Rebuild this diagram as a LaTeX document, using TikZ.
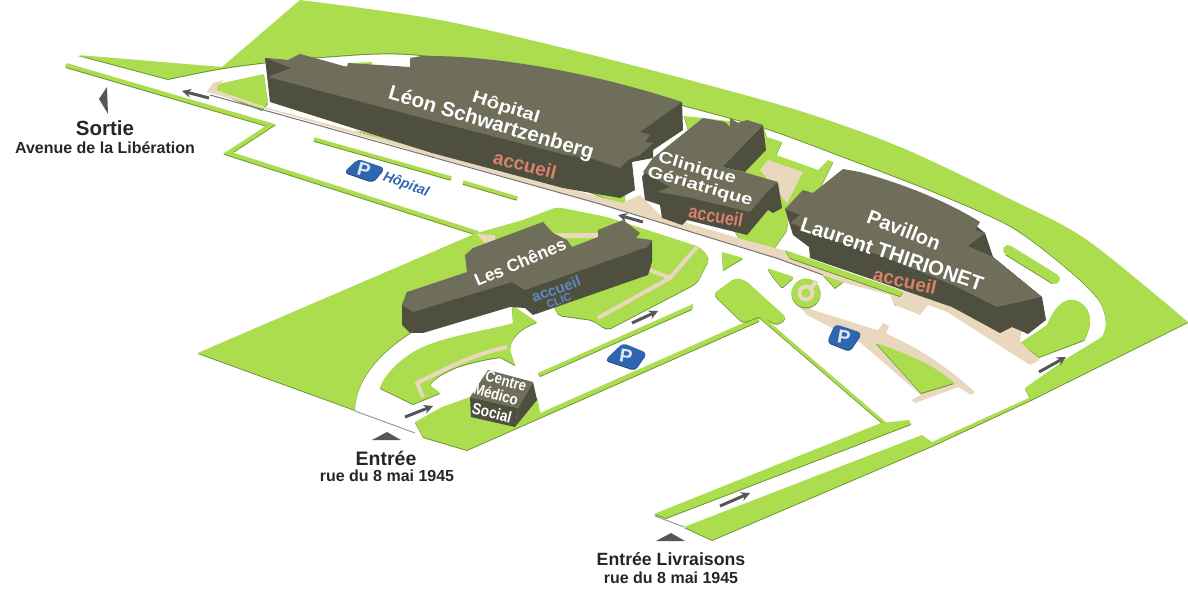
\documentclass[tikz,border=0pt]{standalone}
\usepackage{fontspec}
\setmainfont{Liberation Sans}
\definecolor{lawngreen}{HTML}{ABDD4F}
\definecolor{lawnedge}{HTML}{6C9433}
\definecolor{pathbeige}{HTML}{EAD8BE}
\definecolor{roofgray}{HTML}{6F6E5B}
\definecolor{wallgray}{HTML}{4F4F3F}
\definecolor{signblue}{HTML}{2E66B0}
\definecolor{arrowgray}{HTML}{55565C}
\definecolor{accueilred}{HTML}{D9826A}
\definecolor{accueilblue}{HTML}{5F8ABF}
\usetikzlibrary{arrows.meta}
\tikzset{
  lawn/.style={fill=lawngreen,preaction={fill=lawnedge,transform canvas={yshift=-1pt}}},
  lawnline/.style={draw=lawngreen,line width=#1,preaction={draw=lawnedge,line width=#1,transform canvas={yshift=-1pt}}},
  footpath/.style={fill=pathbeige},
  pathline/.style={draw=pathbeige,line width=#1},
  roof/.style={fill=roofgray},
  wall/.style={fill=wallgray},
  trafficarrow/.style={draw=arrowgray,line width=3pt,-{Stealth[length=9pt,width=9pt]}},
  marker/.style={fill=arrowgray},
  gatebar/.style={draw=gray!80,line width=1pt},
  parksign/.style={fill=signblue,rounded corners=4pt,preaction={fill=signblue!70!black,transform canvas={yshift=-1pt}}},
  parkletter/.style={text=white!85!signblue,font=\bfseries\fontsize{19}{19}\selectfont},
  place/.style={text=white,font=\bfseries\fontsize{#1}{#1}\selectfont,align=center,inner sep=0pt},
  desk/.style={text=accueilred,font=\bfseries\fontsize{#1}{#1}\selectfont,inner sep=0pt},
  bluedesk/.style={text=accueilblue,font=\bfseries\fontsize{#1}{#1}\selectfont,inner sep=0pt},
  caption/.style={text=black!85,font=\bfseries\fontsize{#1}{#1}\selectfont,inner sep=0pt}
}
\begin{document}
\begin{tikzpicture}[x=1pt,y=-1pt]
    \useasboundingbox (0,0) rectangle (1188,593);
    %% big lawn behind the hospital, round to the right tip
    \path[lawn] (78,55) -- plot[smooth] coordinates {(168,79) (230,67) (321,57) (421,55) (600,85) (682,105) (765,128) (844,157) (937,193) (1012,227) (1069,270) (1099,300) (1106,323) (1102,337)}
        -- (1069,357) -- (1025,388) -- (1031,400) -- (1188,322)
        -- plot[smooth] coordinates {(1188,322) (1087,240) (1012,200) (900,147) (787,107) (600,57) (440,20) (300,0)}
        -- (222,67) -- cycle;
    %% lawns on the road side
    \draw[lawnline=4pt,miter limit=10] (66,65) -- (271,125) -- (228,153) -- (478,233);
    \draw[lawnline=3.5pt] (314,139) -- (451,178);
    \draw[lawnline=3.5pt] (463,182) -- (517,198);
    \path[lawn] (218,84) -- (264,74) -- (268,103) -- (262,110) -- (216,92) -- cycle;
    \path[lawn] (355,130) -- (434,148) -- (434,156) -- cycle;
    \path[lawn] (347,67) -- (348,63) -- (372,62) -- (372,67) -- cycle;
    \path[lawn] (560,180) -- (625,195) -- (625,206) -- cycle;
    %% lawns round les Chenes
    \path[lawn,rounded corners=5pt] (198,353) -- (477,233) -- (523,220) -- (557,207) -- (607,217) -- (700,247) -- (710,258) -- (697,283) -- (607,330) -- (593,320) -- (557,315) -- (555,305) -- (512,300) -- (415,325) -- (410,333);
    \path[lawn] (198,353) -- (477,233) -- (525,250) -- (415,325) -- (410,333) .. controls (380,352) and (355,380) .. (355,410) -- cycle;
    \path[lawn] (512,305) -- (537,322) .. controls (520,328) and (510,338) .. (510,350) -- (515,365) -- (500,357) .. controls (480,360) and (460,365) .. (450,370)
        .. controls (440,375) and (432,380) .. (430,385) -- (440,393) -- (413,404) -- (380,388) .. controls (385,372) and (405,355) .. (423,347) .. controls (450,335) and (490,330) .. (513,323) -- cycle;
    \path[lawn] (538,373) -- (693,304) -- (692,309) -- (540,376) -- cycle;
    %% lawn of the centre medico social and the blocks on the right
    \path[lawn] (415,422) -- (442,407) -- (470,397) -- (537,397) -- (540,413) -- (759,316) -- (759,321) -- (467,450) -- (423,437) -- cycle;
    \path[lawn,rounded corners=4pt] (713,294) -- (735,278) -- (745,280) -- (787,318) -- (777,325) -- (760,316) -- (743,323) -- cycle;
    \draw[lawnline=3pt] (760,316) -- (888,426);
    \path[lawn] (654,514) -- (881,423) -- (909,420) -- (911,424) -- (666,518) -- cycle;
    \path[lawn] (684,527) -- (922,435) -- (932,442) -- (1031,397) -- (1031,400) -- (932,446) -- (712,540) -- cycle;
    \path[lawn] (722,252) -- (743,258) -- (723,270) -- cycle;
    \path[lawn,rounded corners=2pt] (767,268) -- (794,277) -- (782,288) -- (773,277) -- cycle;
    \draw[lawnline=10pt,line cap=round] (1008,250) -- (1055,279);
    \path[lawn] (1020,343) -- (1047,325) .. controls (1055,305) and (1065,298) .. (1075,300) .. controls (1090,305) and (1095,320) .. (1084,340) -- (1039,357) -- cycle;
    \path[lawn] (684,116) -- (703,118) -- (763,125) -- (767,137) -- (782,142) -- (776,155) -- (818,170) -- (828,160) -- (833,162) -- (818,192) -- (790,205) -- (787,230) -- (773,250) -- (740,240) -- (700,170) -- cycle;
    \path[lawn] (823,275) -- (835,288) -- (845,280) -- cycle;
    \path[lawn] (890,292) -- (895,305) -- (905,292) -- cycle;
    %% footpaths
    \path[footpath] (207,92) -- (213,83) -- (224,80) -- (218,86) -- (216,90) -- (268,108) -- (622,203) -- (640,195) -- (660,215) -- (745,240) -- (790,252) -- (810,262) -- (928,298) -- (947,303) -- (1022,328) -- (1020,342) -- (1040,360) -- (1030,365) -- (980,333) -- (947,312) -- (928,305) -- (920,315) -- (895,305) -- (890,295) -- (845,283) -- (823,275) -- (776,258) -- (600,204) -- cycle;
    \draw[gray!90!black,line width=1pt] (210,95) -- (600,204) -- (776,258) -- (823,275);
    \path[footpath] (768,160) -- (803,172) -- (787,203) -- (760,170) -- cycle;
    \path[lawn] (785,250) -- (890,287) -- (903,292) -- (900,296) -- (790,258) -- cycle;
    \draw[pathline=4pt] (423,397) -- (417,383) .. controls (440,372) and (470,355) .. (507,347);
    \draw[pathline=4pt] (598,318) -- (670,278) -- (697,247);
    \draw[pathline=4pt] (650,270) -- (670,278);
    \draw[pathline=5pt] (553,236) -- (598,236);
    \path[footpath] (477,234) -- (495,235) -- (495,246) -- (487,246) -- cycle;
    %% roundabout and the curved path in front of it
    \path[footpath] (792,298) -- (813,310) -- (877,330) .. controls (915,345) and (945,365) .. (975,392) -- (971,395) -- (958,387) -- (915,403) -- (911,400) -- (921,395) -- (861,343) -- (807,315) -- cycle;
    \path[lawn] (806,293) circle (14.5pt);
    \draw[pathline=4pt] (806,293) circle (6.5pt);
    \draw[pathline=4pt] (806,293) ++(5,-5) -- ++(6,-7);
    \path[lawn] (876,343) .. controls (905,353) and (935,365) .. (954,383) -- (921,393) -- cycle;
    \path[footpath] (876,333) -- (883,323) -- (889,326) -- (885,336) -- cycle;
    %% hopital
    \path[wall] (265,58) -- (270,102) -- (432,153) -- (563,188) -- (620,198) -- (635,190) -- (632,162) -- (653,158) -- (653,150) -- (683,130) -- (682,102) -- cycle;
    \path[roof] (265,58) -- (288,60) -- (300,54) -- (315,58) -- (347,67) -- (348,63) -- (410,67) -- (410,58) -- (422,56) .. controls (500,55) and (600,75) .. (682,102) -- (640,132) -- (650,135) -- (645,142) -- (653,143) -- (640,155) -- (628,160) -- (620,168) -- (590,158) -- (566,155) -- (430,120) -- (268,77) -- (291,68) -- cycle;
    \node[place=17,rotate=-18,xscale=1.21] (hopitalA) at (506,108) {Hôpital};
    \node[place=20.5,rotate=-16.5] (hopitalB) at (491,124) {Léon Schwartzenberg};
    \node[desk=19,rotate=-14] (hopitalDesk) at (525,165) {accueil};
    %% clinique
    \path[wall] (722,167) -- (763,125) -- (766,150) -- (745,172) -- cycle;
    \path[wall] (642,177) -- (645,200) -- (660,205) -- (662,218) -- (682,225) -- (687,220) -- (747,235) -- (768,210) -- (773,213) -- (782,208) -- (778,183) -- (743,172) -- (653,158) -- cycle;
    \path[roof] (653,158) -- (703,118) -- (725,122) -- (730,127) -- (730,118) -- (738,123) -- (747,120) -- (763,125) -- (722,167) -- (743,172) -- (778,182) -- (767,192) -- (750,212) -- (687,197) -- (658,192) -- (670,187) -- (643,172) -- cycle;
    \node[place=16,rotate=-16,xscale=1.27] (cliniqueA) at (697,169) {Clinique};
    \node[place=16,rotate=-16,xscale=1.27] (cliniqueB) at (700,187) {Gériatrique};
    \node[desk=19,rotate=-10,xscale=.85] (cliniqueDesk) at (716,216) {accueil};
    %% pavillon
    \path[wall] (785,209) -- (793,235) -- (809,247) -- (810,258) -- (952,307) -- (1000,333) -- (1012,327) -- (1028,334) -- (1046,320) -- (1042,297) -- (993,257) -- (985,233) -- (975,225) -- (900,200) -- cycle;
    \path[roof] (785,209) -- (803,190) -- (813,193) -- (843,169) -- (860,172) .. controls (900,183) and (945,200) .. (980,222) -- (975,230) -- (985,233) -- (968,246) -- (993,257) -- (1042,297) -- (1010,304) -- (997,307) -- (953,285) -- (880,255) -- (808,232) -- (797,225) -- (790,223) -- (800,215) -- cycle;
    \node[place=20,rotate=-21] (pavillonA) at (904,230) {Pavillon};
    \node[place=20.5,rotate=-18.5] (pavillonB) at (892,254) {Laurent THIRIONET};
    \node[desk=19,rotate=-13] (pavillonDesk) at (905,281) {accueil};
    %% les chenes
    \path[wall] (402,305) -- (402,325) -- (410,333) -- (423,333) -- (510,307) -- (525,308) -- (533,315) -- (648,275) -- (652,262) -- (652,240) -- (647,247) -- (512,282) -- (407,292) -- cycle;
    \path[roof] (407,292) -- (467,272) -- (465,255) -- (473,248) -- (543,222) -- (553,233) -- (567,240) -- (572,247) -- (598,237) -- (598,230) -- (623,220) -- (640,233) -- (636,238) -- (652,240) -- (647,247) -- (525,290) -- (512,282) -- (413,312) -- (402,305) -- cycle;
    \node[place=17.4,rotate=23] (chenes) at (520,262) {Les Chênes};
    \node[bluedesk=15,rotate=20] (chenesDesk) at (556,289) {accueil};
    \node[bluedesk=11,rotate=20] (chenesClic) at (559,301) {CLIC};
    %% centre medico social
    \path[wall] (470,397) -- (518,408) -- (515,427) -- (471,417) -- cycle;
    \path[wall] (533,382) -- (537,400) -- (515,427) -- (518,408) -- cycle;
    \path[roof] (488,370) -- (533,382) -- (518,408) -- (470,397) -- cycle;
    \node[place=15.5,rotate=-16,xscale=.85] (centreA) at (506,381) {Centre};
    \node[place=15.5,rotate=-16,xscale=.85] (centreB) at (496,394) {Médico};
    \node[place=16,rotate=-14,xscale=.85] (centreC) at (492,413) {Social};
    %% parking signs
    \path[parksign] (344,172) -- (358,159) -- (385,168) -- (373,182) -- cycle;
    \node[parkletter,rotate=-15] (parkA) at (364,170) {P};
    \node[text=signblue,font=\bfseries\itshape\fontsize{14}{14}\selectfont,rotate=-20,inner sep=0pt] (parkAtext) at (406,185) {Hôpital};
    \path[parksign] (605,360) -- (623,343) -- (647,353) -- (635,370) -- cycle;
    \node[parkletter,rotate=-10] (parkB) at (626,356) {P};
    \path[parksign] (827,342) -- (835,324) -- (862,333) -- (850,351) -- cycle;
    \node[parkletter,rotate=-10] (parkC) at (844,337) {P};
    %% arrows on the roads
    \coordinate (arrowAa) at (209,98);
    \coordinate (arrowAb) at (182,91);
    \coordinate (arrowBa) at (643,222);
    \coordinate (arrowBb) at (618,215);
    \coordinate (arrowCa) at (405,417);
    \coordinate (arrowCb) at (433,406);
    \coordinate (arrowDa) at (632,323);
    \coordinate (arrowDb) at (658,311);
    \coordinate (arrowEa) at (1039,372);
    \coordinate (arrowEb) at (1066,357);
    \coordinate (arrowFa) at (720,506);
    \coordinate (arrowFb) at (750,493);
    \draw[trafficarrow] (arrowAa) -- (arrowAb);
    \draw[trafficarrow] (arrowBa) -- (arrowBb);
    \draw[trafficarrow] (arrowCa) -- (arrowCb);
    \draw[trafficarrow] (arrowDa) -- (arrowDb);
    \draw[trafficarrow] (arrowEa) -- (arrowEb);
    \draw[trafficarrow] (arrowFa) -- (arrowFb);
    %% entries
    \draw[gatebar] (355,411) -- (415,433);
    \draw[gatebar] (655,516) -- (684,527);
    \path[marker] (107,87) -- (99,99) -- (108,114) -- cycle;
    \path[marker] (372,440) -- (387,432) -- (401,440) -- cycle;
    \path[marker] (656,541) -- (671,533) -- (685,541) -- cycle;
    \node[caption=20.5] (sortie) at (105,128) {Sortie};
    \node[caption=16] (sortieRue) at (105,148) {Avenue de la Libération};
    \node[caption=19.5] (entree) at (386,458) {Entrée};
    \node[caption=16] (entreeRue) at (387,476) {rue du 8 mai 1945};
    \node[caption=17.7] (livraisons) at (671,559) {Entrée Livraisons};
    \node[caption=16] (livraisonsRue) at (671,578) {rue du 8 mai 1945};
\end{tikzpicture}
\end{document}
